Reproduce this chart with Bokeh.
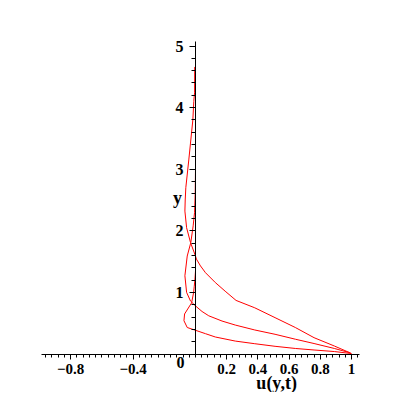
from bokeh.plotting import figure
from bokeh.models import FixedTicker, Range1d
from bokeh.core.properties import value
from bokeh.embed import file_html
from bokeh.resources import INLINE

# ---- data ----
y1 = [0, 0.01, 0.04, 0.065, 0.09, 0.125, 0.167, 0.21, 0.276, 0.33, 0.385, 0.43, 0.54, 0.65, 0.83, 1.0, 1.1, 1.2, 1.35, 1.6, 2.0, 3.0, 4.0, 4.66]
u1 = [1, 0.99, 0.89, 0.76, 0.64, 0.51, 0.38, 0.255, 0.127, 0.064, 0, -0.053, -0.074, -0.07, -0.025, -0.012, -0.008, -0.004, 0, 0, 0, 0, 0, 0]

y2 = [0, 0.02, 0.09, 0.17, 0.24, 0.32, 0.39, 0.47, 0.535, 0.62, 0.69, 0.78, 0.86, 1.0, 1.27, 1.59, 1.81, 2.08, 2.3, 2.6, 3.0, 4.66]
u2 = [1, 0.99, 0.89, 0.76, 0.64, 0.51, 0.38, 0.255, 0.17, 0.085, 0.042, 0, -0.032, -0.057, -0.068, -0.053, -0.03, -0.015, -0.006, -0.002, 0, 0]

y3 = [0, 0.02, 0.13, 0.265, 0.43, 0.59, 0.75, 0.87, 1.02, 1.16, 1.32, 1.43, 1.54, 1.59, 1.81, 2.05, 2.32, 2.5, 2.7, 3.15, 3.8, 4.1, 4.24, 4.66]
u3 = [1, 0.99, 0.89, 0.76, 0.64, 0.51, 0.38, 0.26, 0.19, 0.127, 0.064, 0.032, 0.006, 0, -0.032, -0.057, -0.068, -0.066, -0.062, -0.043, -0.017, -0.011, -0.006, -0.005]

x_major = [-0.8, -0.4, 0.2, 0.4, 0.6, 0.8, 1.0]
x_major_labels = ["\u22120.8", "\u22120.4", "0.2", "0.4", "0.6", "0.8", "1"]
y_major = [1, 2, 3, 4, 5]
y_major_labels = ["1", "2", "3", "4", "5"]
x_label = "u(y,t)"
y_label = "y"

x_minor = [round(-0.96 + 0.04 * i, 2) for i in range(51)]
y_minor = [round(0.2 * i, 1) for i in range(1, 26)]

W, H = 392, 392
X0, Y0, SX, SY = 195.0, 353.5, 156.0, 61.6
p = figure(width=W, height=H, output_backend="svg", toolbar_location=None,
           x_range=Range1d(-X0 / SX, (W - X0) / SX),
           y_range=Range1d(-(H - Y0) / SY, Y0 / SY),
           min_border=0)
p.min_border_left = p.min_border_right = p.min_border_top = p.min_border_bottom = 0
p.outline_line_color = None
p.grid.visible = False
p.background_fill_color = "white"

FONT = "Liberation Serif"

xa = p.xaxis[0]
xa.fixed_location = 0
xa.bounds = (-0.99, 1.05)
xa.ticker = FixedTicker(ticks=x_major, minor_ticks=x_minor)
xa.major_label_overrides = {t: l for t, l in zip(x_major, x_major_labels)}
xa.major_tick_out = 5
xa.major_tick_in = 0
xa.minor_tick_out = 3
xa.minor_tick_in = 0
xa.major_label_standoff = 5
xa.major_label_text_font = FONT
xa.major_label_text_font_style = "bold"
xa.major_label_text_font_size = "15px"
xa.major_label_text_color = "black"
xa.axis_line_color = "black"

ya = p.yaxis[0]
ya.fixed_location = 0
ya.bounds = (0, 5.08)
ya.ticker = FixedTicker(ticks=y_major, minor_ticks=y_minor)
ya.major_label_overrides = {t: l for t, l in zip(y_major, y_major_labels)}
ya.major_tick_out = 6
ya.major_tick_in = 0
ya.minor_tick_out = 4
ya.minor_tick_in = 0
ya.major_label_standoff = 6
ya.major_label_text_font = FONT
ya.major_label_text_font_style = "bold"
ya.major_label_text_font_size = "16px"
ya.major_label_text_color = "black"
ya.axis_line_color = "black"

for xs, ys in ((u1, y1), (u2, y2), (u3, y3)):
    p.line(xs, ys, line_color="#ff0000", line_width=1)

p.text(x=[0], y=[0], text=["0"], x_offset=-15, y_offset=8,
       text_font=value(FONT), text_font_style="bold", text_font_size="16px",
       text_align="center", text_baseline="middle", text_color="black")
p.text(x=[0.52], y=[0], text=[x_label], y_offset=29,
       text_font=value(FONT), text_font_style="bold", text_font_size="18px",
       text_align="center", text_baseline="middle", text_color="black")
p.text(x=[0], y=[2.53], text=[y_label], x_offset=-18,
       text_font=value(FONT), text_font_style="bold", text_font_size="18px",
       text_align="center", text_baseline="middle", text_color="black")

open("out.html", "w").write(file_html(p, INLINE))
